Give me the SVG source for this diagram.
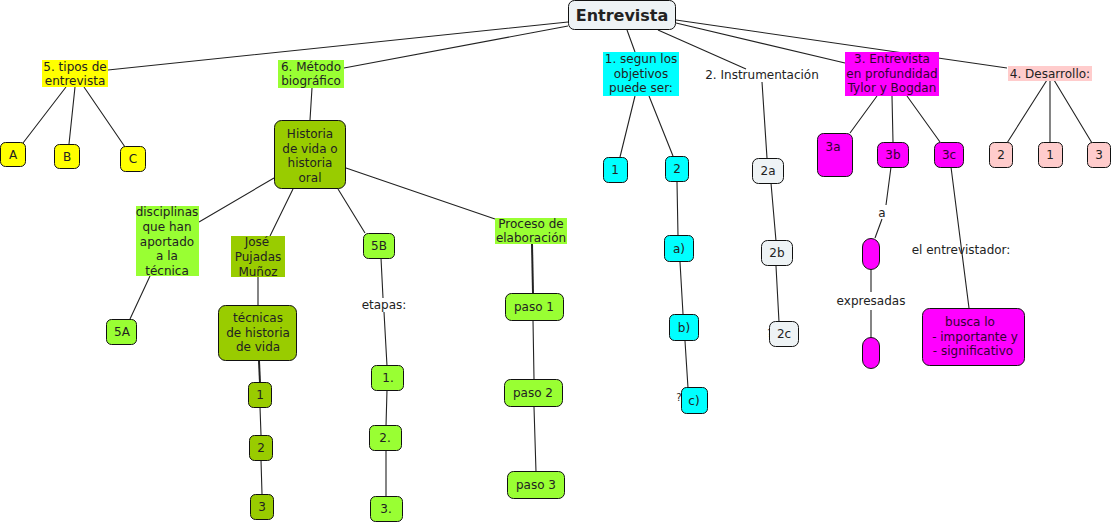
<svg xmlns="http://www.w3.org/2000/svg" width="1113" height="524" viewBox="0 0 1113 524">
<style>
text{font-family:"DejaVu Sans",Verdana,sans-serif;font-size:12px;fill:#222;text-anchor:middle}
.b{stroke:#111;stroke-width:1}
.y{fill:#ffff00}.g{fill:#99ff33}.o{fill:#99cc00}.c{fill:#00ffff}.m{fill:#ff00ff}.p{fill:#ffcccc}.w{fill:#eef3f5}
.mt{fill:#330033}
.l{stroke:#222;stroke-width:1.1;fill:none}
.t{stroke-width:2}
</style>
<rect width="1113" height="524" fill="#fff"/>
<g id="connectors">
<path class="l" d="M568,22L108,70M568,26L344,68M627,30L635,52M658,30L746,69M676,23L845,63M676,20L1007,68"/>
<path class="l" d="M66,87L23,143M75,87L69,144M84,87L125,147"/>
<path class="l" d="M312,88L310,120M274,178L199,222M293,189L270,236M338,189L365,233M346,168L495,219"/>
<path class="l" d="M150,276L130,319M258,277L258,305"/>
<path class="l t" d="M259,361L260,383"/>
<path class="l" d="M260,407L261,435M261,460L262,494"/>
<path class="l" d="M381,258L383,298M384,312L387,366M387,390L386,426M386,450L386,497"/>
<path class="l t" d="M532,244L533,293"/>
<path class="l" d="M533,320L534,379M534,407L536,472"/>
<path class="l" d="M635,96L620,157M649,96L673,156M677,182L678,236M680,262L683,314M685,341L688,388"/>
<path class="l" d="M762,82L767,158M771,183L776,241M776,266L779,322"/>
<path class="l" d="M877,96L850,133M892,96L893,142M907,96L940,142"/>
<path class="l" d="M891,167L886,205M882,219L875,238M871,269L871,292M871,310L871,338M951,167L969,308"/>
<path class="l" d="M1047,80L1007,143M1050,80L1050,142M1054,80L1092,143"/>
</g>
<g id="n-root"><rect class="b w" x="568.5" y="0.5" width="107" height="29" rx="6"/><text x="622" y="21" style="font-size:16px;font-weight:bold">Entrevista</text></g>
<g id="n-tipos"><rect class="y" x="42" y="60" width="66" height="27"/><text x="75" y="71">5. tipos de</text><text x="75" y="85">entrevista</text></g>
<g id="n-A"><rect class="b y" x="0.5" y="142.5" width="25" height="24" rx="5"/><text x="13" y="159">A</text></g>
<g id="n-B"><rect class="b y" x="54.5" y="144.5" width="25" height="24" rx="5"/><text x="67" y="161">B</text></g>
<g id="n-C"><rect class="b y" x="120.5" y="146.5" width="25" height="25" rx="5"/><text x="133" y="163">C</text></g>
<g id="n-metodo"><rect class="g" x="278" y="60" width="66" height="28"/><text x="311" y="71">6. Método</text><text x="311" y="85">biográfico</text></g>
<g id="n-historia"><rect class="b o" x="274.5" y="120.5" width="71" height="68" rx="7"/><text x="310" y="138">Historia</text><text x="310" y="152.5">de vida o</text><text x="310" y="167">historia</text><text x="310" y="181.5">oral</text></g>
<g id="n-disciplinas"><rect class="g" x="136" y="206" width="63" height="70"/><text x="167" y="216">disciplinas</text><text x="167" y="231">que han</text><text x="167" y="245.5">aportado</text><text x="167" y="260">a la</text><text x="167" y="274.5">técnica</text></g>
<g id="n-5A"><rect class="b g" x="106.5" y="319.5" width="30" height="25" rx="5"/><text x="122" y="336">5A</text></g>
<g id="n-jose"><rect class="o" x="231" y="236" width="54" height="41"/><text x="257" y="246">José</text><text x="258" y="261">Pujadas</text><text x="258" y="275.5">Muñoz</text></g>
<g id="n-tecnicas"><rect class="b o" x="218.5" y="305.5" width="78" height="55" rx="7"/><text x="258" y="322">técnicas</text><text x="258" y="337">de historia</text><text x="258" y="351">de vida</text></g>
<g id="n-t1"><rect class="b o" x="248.5" y="382.5" width="23" height="25" rx="5"/><text x="260" y="399">1</text></g>
<g id="n-t2"><rect class="b o" x="249.5" y="435.5" width="23" height="25" rx="5"/><text x="261" y="452">2</text></g>
<g id="n-t3"><rect class="b o" x="250.5" y="494.5" width="23" height="25" rx="5"/><text x="262" y="511">3</text></g>
<g id="n-5B"><rect class="b g" x="363.5" y="233.5" width="31" height="25" rx="5"/><text x="379" y="250">5B</text></g>
<text x="384" y="309">etapas:</text>
<g id="n-e1"><rect class="b g" x="371.5" y="365.5" width="32" height="25" rx="5"/><text x="388" y="382">1.</text></g>
<g id="n-e2"><rect class="b g" x="369.5" y="425.5" width="32" height="25" rx="5"/><text x="385" y="442">2.</text></g>
<g id="n-e3"><rect class="b g" x="370.5" y="496.5" width="32" height="25" rx="5"/><text x="386" y="513">3.</text></g>
<g id="n-proceso"><rect class="g" x="495" y="218" width="72" height="26"/><text x="531" y="228">Proceso de</text><text x="531" y="242">elaboración</text></g>
<g id="n-paso1"><rect class="b g" x="505.5" y="293.5" width="58" height="27" rx="6"/><text x="534" y="311">paso 1</text></g>
<g id="n-paso2"><rect class="b g" x="504.5" y="379.5" width="58" height="27" rx="6"/><text x="533" y="397">paso 2</text></g>
<g id="n-paso3"><rect class="b g" x="507.5" y="471.5" width="57" height="27" rx="6"/><text x="536" y="489">paso 3</text></g>
<g id="n-segun"><rect class="c" x="603" y="52" width="76" height="44"/><text x="641" y="63">1. segun los</text><text x="641" y="77.5">objetivos</text><text x="641" y="92">puede ser:</text></g>
<g id="n-c1"><rect class="b c" x="603.5" y="157.5" width="24" height="25" rx="5"/><text x="615" y="174">1</text></g>
<g id="n-c2"><rect class="b c" x="665.5" y="156.5" width="23" height="25" rx="5"/><text x="677" y="173">2</text></g>
<g id="n-ca"><rect class="b c" x="664.5" y="235.5" width="29" height="26" rx="5"/><text x="679" y="253">a)</text></g>
<g id="n-cb"><rect class="b c" x="669.5" y="314.5" width="29" height="26" rx="5"/><text x="684" y="332">b)</text></g>
<text x="679" y="401" style="font-size:10px">?</text>
<g id="n-cc"><rect class="b c" x="681.5" y="387.5" width="26" height="26" rx="5"/><text x="694" y="405">c)</text></g>
<g id="n-instr"><text x="762" y="79">2. Instrumentación</text></g>
<g id="n-2a"><rect class="b w" x="752.5" y="158.5" width="31" height="25" rx="6"/><text x="768" y="175">2a</text></g>
<g id="n-2b"><rect class="b w" x="761.5" y="240.5" width="31" height="25" rx="6"/><text x="777" y="257">2b</text></g>
<text x="770" y="337" style="font-size:10px">?</text>
<g id="n-2c"><rect class="b w" x="769.5" y="321.5" width="29" height="25" rx="6"/><text x="784" y="338">2c</text></g>
<g id="n-prof"><rect class="m" x="845" y="52" width="94" height="44"/><text class="mt" x="892" y="63">3. Entrevista</text><text class="mt" x="892" y="77.5">en profundidad</text><text class="mt" x="892" y="92">Tylor y Bogdan</text></g>
<g id="n-3a"><rect class="b m" x="817.5" y="133.5" width="35" height="43" rx="6"/><text class="mt" x="833" y="151">3a</text></g>
<g id="n-3b"><rect class="b m" x="877.5" y="142.5" width="31" height="25" rx="6"/><text class="mt" x="893" y="159">3b</text></g>
<g id="n-3c"><rect class="b m" x="934.5" y="142.5" width="29" height="25" rx="6"/><text class="mt" x="949" y="159">3c</text></g>
<text x="882" y="217">a</text>
<g id="n-pill1"><rect class="b m" x="862.5" y="238.5" width="17" height="31" rx="8.5"/></g>
<text x="871" y="305">expresadas</text>
<g id="n-pill2"><rect class="b m" x="862.5" y="337.5" width="17" height="31" rx="8.5"/></g>
<text x="961" y="254">el entrevistador:</text>
<g id="n-busca"><rect class="b m" x="922.5" y="308.5" width="102" height="57" rx="7"/><text class="mt" x="970" y="326">busca lo</text><text class="mt" x="975" y="341">- importante y</text><text class="mt" x="973" y="355">- significativo</text></g>
<g id="n-desarrollo"><rect class="p" x="1008" y="66" width="84" height="15"/><text x="1050" y="78">4. Desarrollo:</text></g>
<g id="n-d2"><rect class="b p" x="989.5" y="142.5" width="23" height="25" rx="5"/><text x="1001" y="159">2</text></g>
<g id="n-d1"><rect class="b p" x="1038.5" y="142.5" width="24" height="25" rx="5"/><text x="1050" y="159">1</text></g>
<g id="n-d3"><rect class="b p" x="1087.5" y="142.5" width="23" height="25" rx="5"/><text x="1099" y="159">3</text></g>
</svg>
